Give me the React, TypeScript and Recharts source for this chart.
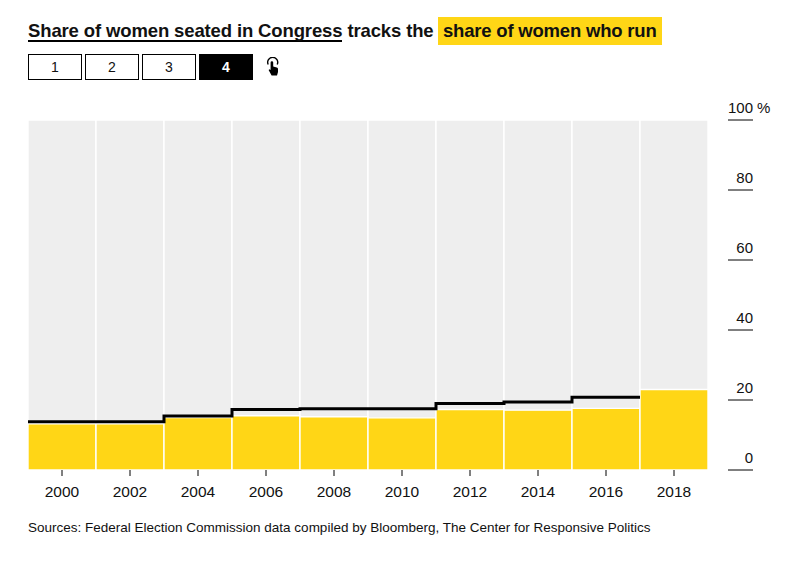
import { Bar, ComposedChart, Line, XAxis, YAxis } from "recharts";

const years = ["2000", "2002", "2004", "2006", "2008", "2010", "2012", "2014", "2016", "2018"];
const candidates = [13.2, 13.2, 15.0, 15.5, 15.2, 14.9, 17.3, 17.1, 17.6, 23.0];
const fullScale = [100, 100, 100, 100, 100, 100, 100, 100, 100, 100];

// step line runs edge to edge of each two-year column, last value repeated to close it
const seatedEdges = [1999, 2001, 2003, 2005, 2007, 2009, 2011, 2013, 2015, 2017];
const seatedValues = [13.8, 13.8, 15.4, 17.3, 17.5, 17.5, 19.0, 19.4, 20.8, 20.8];

const yTicks = [0, 20, 40, 60, 80, 100];
const buttons = ["1", "2", "3", "4"];

const FONT = "'Liberation Sans', Arial, sans-serif";
const YELLOW = "#FFD616";

const chartData = years.map((year, i) => ({
  year,
  candidates: candidates[i],
  full: fullScale[i],
}));
const lineData = seatedEdges.map((edge, i) => ({ edge, seated: seatedValues[i] }));

function YTick({ x, y, payload }: any) {
  const right = x + 45;
  return (
    <g fontFamily={FONT} fontSize={15} fill="#111">
      <line x1={x + 20} x2={right} y1={y} y2={y} stroke="#000" strokeWidth={1} />
      <text x={right} y={y - 7} textAnchor="end">
        {payload.value}
      </text>
      {payload.value === 100 ? (
        <text x={right + 4} y={y - 7}>
          %
        </text>
      ) : null}
    </g>
  );
}

function XTick({ x, y, payload }: any) {
  return (
    <g fontFamily={FONT} fontSize={15.5} fill="#111">
      <line x1={x} x2={x} y1={y} y2={y + 6} stroke="#000" strokeWidth={1} />
      <text x={x} y={y + 27} textAnchor="middle">
        {payload.value}
      </text>
    </g>
  );
}

function HandIcon() {
  return (
    <svg width="16" height="20" viewBox="0 0 16 20" style={{ position: "absolute", left: 265, top: 57 }}>
      <path d="M3.2 7.5 A5 5 0 1 1 12.2 7.5" fill="none" stroke="#000" strokeWidth="1.4" />
      <path
        d="M5.6 5.6 a1.3 1.3 0 0 1 2.6 0 V9.5 l3.6 1 a1.6 1.6 0 0 1 1.2 1.6 V15 l-1 3.4 H6.6 L3.6 13 l1 -0.8 1 0.9 z"
        fill="#000"
      />
    </svg>
  );
}

export default function App() {
  return (
    <div style={{ position: "absolute", left: 0, top: 0, width: 794, height: 561, background: "#fff", fontFamily: FONT, color: "#111" }}>
      <div style={{ position: "absolute", left: 28, top: 19, fontSize: 18.5, letterSpacing: -0.13, fontWeight: 700, lineHeight: "24px", whiteSpace: "nowrap" }}>
        <span style={{ borderBottom: "2px solid #000", display: "inline-block", height: 21 }}>Share of women seated in Congress</span>
        <span> tracks the</span>
      </div>
      <div style={{ position: "absolute", left: 438, top: 17, width: 224, height: 28, background: YELLOW, fontSize: 18.5, letterSpacing: -0.2, fontWeight: 700, lineHeight: "28px", paddingLeft: 5, boxSizing: "border-box", whiteSpace: "nowrap" }}>
        share of women who run
      </div>
      {buttons.map((label, i) => (
        <div
          key={label}
          style={{
            position: "absolute",
            left: 28 + i * 57,
            top: 54,
            width: 54,
            height: 26,
            boxSizing: "border-box",
            border: "1px solid #000",
            background: i === 3 ? "#000" : "#fff",
            color: i === 3 ? "#fff" : "#111",
            fontWeight: i === 3 ? 700 : 400,
            fontSize: 14,
            lineHeight: "24px",
            textAlign: "center",
          }}
        >
          {label}
        </div>
      ))}
      <HandIcon />
      <div style={{ position: "absolute", left: 0, top: 0 }}>
        <ComposedChart
          width={794}
          height={561}
          data={chartData}
          margin={{ top: 120, right: 0, bottom: 0, left: 28 }}
          barCategoryGap={0}
          barGap="-100%"
        >
          <XAxis dataKey="year" xAxisId="years" height={91} interval={0} axisLine={false} tickLine={false} tickSize={0} tickMargin={0} tick={<XTick />} />
          <XAxis xAxisId="edges" dataKey="edge" type="number" domain={[1999, 2019]} height={0} hide />
          <YAxis orientation="right" width={86} domain={[0, 100]} ticks={yTicks} axisLine={false} tickLine={false} tickSize={0} tickMargin={0} tick={<YTick />} interval={0} />
          <Bar xAxisId="years" dataKey="full" fill="#EEEEEE" stroke="#fff" strokeWidth={1.4} isAnimationActive={false} />
          <Bar xAxisId="years" dataKey="candidates" fill={YELLOW} stroke="#fff" strokeWidth={1.4} isAnimationActive={false} />
          <Line
            xAxisId="edges"
            data={lineData}
            dataKey="seated"
            type="stepAfter"
            stroke="#000"
            strokeWidth={3}
            dot={false}
            activeDot={false}
            isAnimationActive={false}
          />
        </ComposedChart>
      </div>
      <div style={{ position: "absolute", left: 28, top: 520, fontSize: 13.5, lineHeight: "16px", whiteSpace: "nowrap" }}>
        Sources: Federal Election Commission data compiled by Bloomberg, The Center for Responsive Politics
      </div>
    </div>
  );
}
